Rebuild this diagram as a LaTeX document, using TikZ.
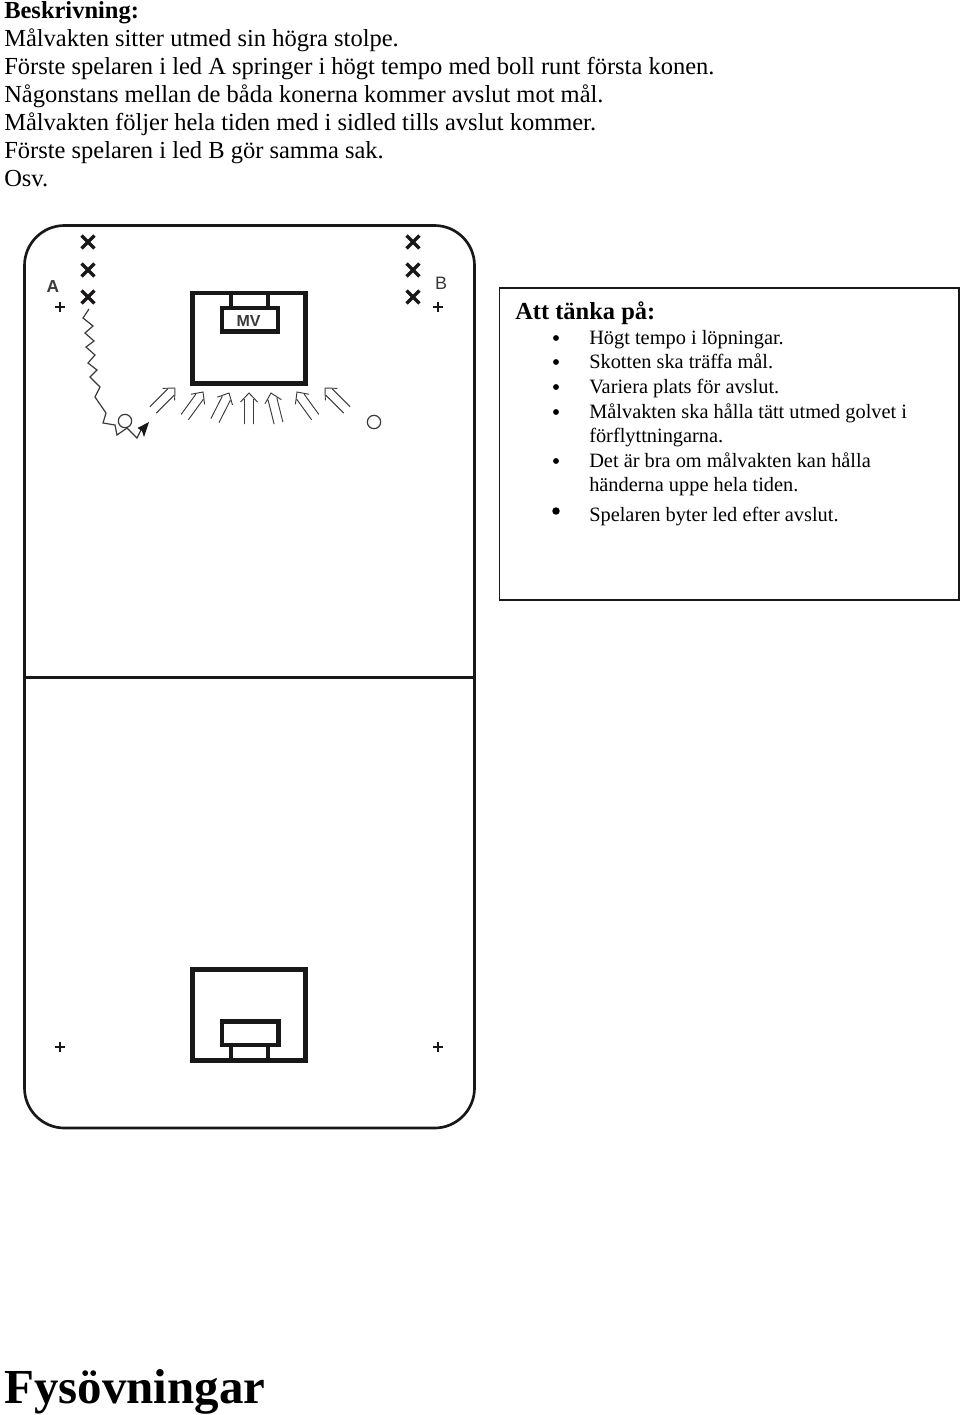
\documentclass[tikz,border=0pt]{standalone}
\usepackage{fontspec}
\setmainfont{Liberation Serif}
\setsansfont{Liberation Sans}
\usepackage{xcolor}
\usetikzlibrary{arrows.meta,shapes.misc}
\definecolor{ink}{HTML}{1A1718}
\definecolor{shot}{HTML}{3A3A3A}
\tikzset{
  bodytext/.style={anchor=base west,inner sep=0pt,font=\fontsize{18.37}{18.37}\selectfont},
  boxtext/.style={anchor=base west,inner sep=0pt,font=\fontsize{15.27}{15.27}\selectfont},
  player/.style={cross out,draw=ink,line width=2.6pt,minimum size=7pt,inner sep=0pt},
  spot/.style={cross out,draw=ink,rotate=45,line width=0.8pt,minimum size=4.5pt,inner sep=0pt},
  cone/.style={circle,draw=shot,line width=0.9pt,minimum size=10pt,inner sep=0pt},
  goalline/.style={draw=ink,line width=3.2pt,line join=miter},
  shotline/.style={draw=shot,line width=0.7pt},
  bullet/.style={circle,fill=black,inner sep=0pt}
}
\begin{document}
\begin{tikzpicture}[x=0.75pt,y=-0.75pt,>=Latex]
\useasboundingbox (0,0) rectangle (960,1415);
% description
\foreach \n/\y/\txt in {2/46/{Målvakten sitter utmed sin högra stolpe.},
  3/74/{Förste spelaren i led A springer i högt tempo med boll runt första konen.},
  4/102/{Någonstans mellan de båda konerna kommer avslut mot mål.},
  5/130/{Målvakten följer hela tiden med i sidled tills avslut kommer.},
  6/158/{Förste spelaren i led B gör samma sak.},
  7/186/{Osv.}}{
  \node[bodytext] (desc\n) at (4,\y) {\txt};
}
\node[bodytext,font=\fontsize{18.37}{18.37}\selectfont\bfseries] (desc1) at (4,18) {Beskrivning:};
% rink
\draw[ink,line width=2pt,rounded corners=30pt] (24.5,225.5) rectangle (474.5,1128);
\draw[ink,line width=2.8pt] (24.5,677.5) -- (474.5,677.5);
% upper goal
\draw[goalline] (192.5,293) rectangle (305.5,383.5);
\draw[goalline] (222,308) rectangle (278,331.5);
\draw[goalline] (231,293) -- (231,308);
\draw[goalline] (268,293) -- (268,308);
\node[font=\sffamily\bfseries\fontsize{12}{12}\selectfont,text=shot,inner sep=0pt] (mv) at (248.5,321) {MV};
% lower goal
\draw[goalline] (192.5,969.5) rectangle (305.5,1060.5);
\draw[goalline] (222,1021.5) rectangle (278.5,1045);
\draw[goalline] (231,1045) -- (231,1060.5);
\draw[goalline] (268,1045) -- (268,1060.5);
% players
\foreach \n/\y in {1/242,2/270,3/297}{
  \node[player] (a\n) at (88,\y) {};
  \node[player] (b\n) at (413,\y) {};
}
\node[font=\sffamily\bfseries\fontsize{13}{13}\selectfont,text=shot,inner sep=0pt] (ledA) at (53,287) {A};
\node[font=\sffamily\fontsize{13.5}{13.5}\selectfont,text=shot,inner sep=0pt] (ledB) at (441,283) {B};
\foreach \n/\x/\y in {1/60/307,2/438/307,3/60/1047,4/438/1047}{
  \node[spot] (spot\n) at (\x,\y) {};
}
\node[cone] (cone1) at (125,421) {};
\node[cone] (cone2) at (374,422) {};
% run with ball
\draw[shot,line width=0.9pt] (89,309) -- (83,318) -- (93,326) -- (85,333) -- (94,341) -- (86,347)
  -- (95,355) -- (88,363) -- (97,370) -- (90,377) -- (100,387) -- (95,397) -- (106,413)
  -- (103,423) -- (115,425) -- (117,435) -- (127,428) -- (137,438) -- (142,428);
\fill[ink] (149,422) -- (137.5,428) -- (142,431) -- (144,437) -- cycle;
% shots
\foreach \x/\y/\a in {175/388/-45,203/392/-36,229/393/-27,249/393/0,271/393/14,297/392/36,325/388/45}{
  \draw[shotline,shift={(\x,\y)},rotate=\a] (-4.5,6) -- (-4.5,31) (4.5,6) -- (4.5,31)
    (-8.5,9) -- (0,0) -- (8.5,9);
}
% box
\draw[ink,line width=1.2pt] (499.5,288) rectangle (959,600);
\node[bodytext,font=\fontsize{18.35}{18.35}\selectfont\bfseries] (think) at (515,319) {Att tänka på:};
\foreach \n/\y/\txt in {1/344/{Högt tempo i löpningar.},
  2/368/{Skotten ska träffa mål.},
  3/393/{Variera plats för avslut.},
  4/418/{Målvakten ska hålla tätt utmed golvet i},
  5/442/{förflyttningarna.},
  6/467/{Det är bra om målvakten kan hålla},
  7/491/{händerna uppe hela tiden.},
  8/521/{Spelaren byter led efter avslut.}}{
  \node[boxtext] (item\n) at (589,\y) {\txt};
}
\foreach \n/\y in {1/338,2/362,3/387,4/412,6/461}{
  \node[bullet,minimum size=4.4pt] (dot\n) at (556,\y) {};
}
\node[bullet,minimum size=5.6pt] (dot8) at (556,511) {};
% heading
\node[anchor=base west,inner sep=0pt,font=\fontsize{36.7}{36.7}\selectfont\bfseries] (title) at (4,1403) {Fysövningar};
\end{tikzpicture}
\end{document}
